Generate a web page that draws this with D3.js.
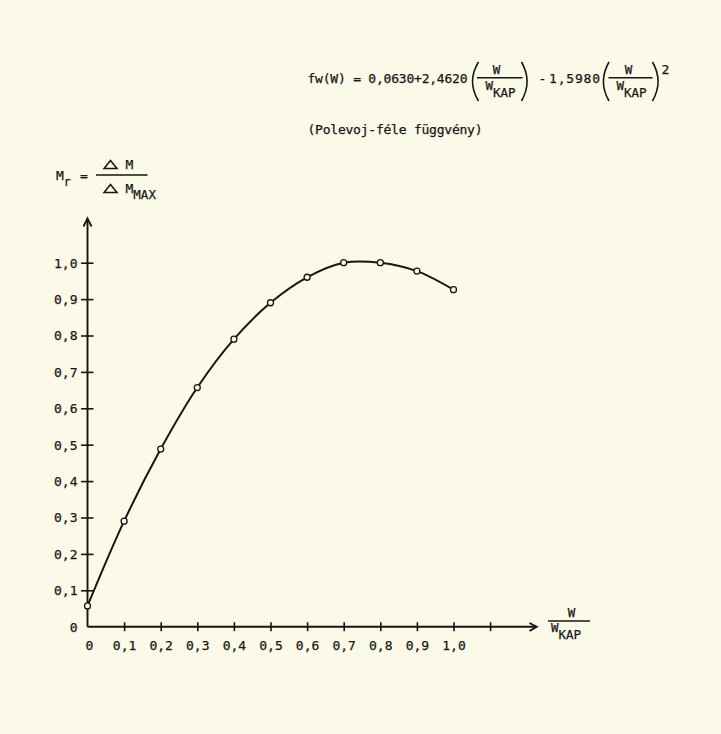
<!DOCTYPE html>
<html>
<head>
<meta charset="utf-8">
<script src="https://cdn.jsdelivr.net/npm/d3@7"></script>
<style>
  html, body { margin: 0; padding: 0; background: #fbf9e7; }
  svg { display: block; }
  text { font-family: "DejaVu Sans Mono", "Liberation Mono", monospace; fill: #161616; stroke: #161616; stroke-width: 0.25; }
</style>
</head>
<body>
<svg id="chart" width="721" height="734"></svg>
<script>
// ---- data ----
const relW = [0, 0.1, 0.2, 0.3, 0.4, 0.5, 0.6, 0.7, 0.8, 0.9, 1.0];
const relM = [0.057, 0.29, 0.488, 0.657, 0.79, 0.89, 0.96, 1.0, 1.0, 0.977, 0.926];
const xTickValues = [0.1, 0.2, 0.3, 0.4, 0.5, 0.6, 0.7, 0.8, 0.9, 1.0, 1.1];
const xLabelValues = [0, 0.1, 0.2, 0.3, 0.4, 0.5, 0.6, 0.7, 0.8, 0.9, 1.0];
const xLabels = ["0", "0,1", "0,2", "0,3", "0,4", "0,5", "0,6", "0,7", "0,8", "0,9", "1,0"];
const yTickValues = [0.1, 0.2, 0.3, 0.4, 0.5, 0.6, 0.7, 0.8, 0.9, 1.0];
const yLabelValues = [0, 0.1, 0.2, 0.3, 0.4, 0.5, 0.6, 0.7, 0.8, 0.9, 1.0];
const yLabels = ["0", "0,1", "0,2", "0,3", "0,4", "0,5", "0,6", "0,7", "0,8", "0,9", "1,0"];

const ink = "#161616";
const fs = 13;
const svg = d3.select("#chart");
svg.append("rect").attr("width", 721).attr("height", 734).attr("fill", "#fbf9e7");

const x = d3.scaleLinear().domain([0, 1]).range([87.5, 453.5]);
const y = d3.scaleLinear().domain([0, 1]).range([626.7, 262.7]);

// ---- axes ----
const gx = svg.append("g").attr("transform", `translate(0,${y(0)})`)
  .call(d3.axisBottom(x).tickValues(xTickValues).tickFormat("").tickSize(4.5));
gx.select(".domain").remove();
gx.selectAll(".tick line").attr("y1", -4.5).attr("y2", 4.5).attr("stroke", ink).attr("stroke-width", 1.6);

const gy = svg.append("g").attr("transform", `translate(${x(0)},0)`)
  .call(d3.axisLeft(y).tickValues(yTickValues).tickFormat("").tickSize(6.5));
gy.select(".domain").remove();
gy.selectAll(".tick line").attr("x1", -6.5).attr("x2", 6).attr("stroke", ink).attr("stroke-width", 1.6);

// axis lines with arrows
svg.append("line").attr("x1", x(0)).attr("x2", 536).attr("y1", y(0)).attr("y2", y(0))
  .attr("stroke", ink).attr("stroke-width", 1.9);
svg.append("path").attr("d", `M529.5,623 L536.7,${y(0)} L529.5,631`)
  .attr("fill", "none").attr("stroke", ink).attr("stroke-width", 1.9);
svg.append("line").attr("x1", x(0)).attr("x2", x(0)).attr("y1", y(0)).attr("y2", 219)
  .attr("stroke", ink).attr("stroke-width", 1.9);
svg.append("path").attr("d", `M${x(0)-4},226.5 L${x(0)},218.3 L${x(0)+4},226.5`)
  .attr("fill", "none").attr("stroke", ink).attr("stroke-width", 1.9);

// tick labels
svg.append("g").selectAll("text").data(xLabelValues).join("text")
  .attr("x", (d, i) => x(d) + (i === 0 ? 2 : 0.5)).attr("y", 650)
  .attr("text-anchor", "middle").attr("font-size", fs)
  .text((d, i) => xLabels[i]);
svg.append("g").selectAll("text").data(yLabelValues).join("text")
  .attr("x", 77.5).attr("y", d => y(d) + 4.8)
  .attr("text-anchor", "end").attr("font-size", fs)
  .text((d, i) => yLabels[i]);

// ---- curve ----
const pts = relW.map((w, i) => [w, relM[i]]);
svg.append("path").datum(pts)
  .attr("d", d3.line().x(d => x(d[0])).y(d => y(d[1])).curve(d3.curveCatmullRom.alpha(0.5)))
  .attr("fill", "none").attr("stroke", ink).attr("stroke-width", 2);
svg.append("g").selectAll("circle").data(pts).join("circle")
  .attr("cx", d => x(d[0])).attr("cy", d => y(d[1])).attr("r", 3)
  .attr("fill", "#fbf9e7").attr("stroke", ink).attr("stroke-width", 1.3);

// ---- x-axis label W / W_KAP ----
svg.append("text").attr("x", 571.5).attr("y", 617).attr("text-anchor", "middle").attr("font-size", 12.5).text("W");
svg.append("line").attr("x1", 548).attr("x2", 590).attr("y1", 621).attr("y2", 621).attr("stroke", ink).attr("stroke-width", 1.5);
svg.append("text").attr("x", 551).attr("y", 632).attr("font-size", 12.5)
  .text("W").append("tspan").attr("dy", 7).attr("font-size", 12.5).text("KAP");

// ---- y-axis label ----
svg.append("text").attr("x", 56).attr("y", 179.5).attr("font-size", fs)
  .text("M").append("tspan").attr("dy", 6).attr("font-size", 11.5).text("r");
svg.append("text").attr("x", 80).attr("y", 180).attr("font-size", fs).text("=");
svg.append("line").attr("x1", 96).attr("x2", 147.5).attr("y1", 175).attr("y2", 175).attr("stroke", ink).attr("stroke-width", 1.5);
function tri(x0, yb) {
  svg.append("path").attr("d", `M${x0},${yb} L${x0 + 13},${yb} L${x0 + 6.5},${yb - 8} Z`)
    .attr("fill", "none").attr("stroke", ink).attr("stroke-width", 1.5);
}
tri(104, 168.5);
tri(104, 192.5);
svg.append("text").attr("x", 125.5).attr("y", 168.5).attr("font-size", fs).text("M");
svg.append("text").attr("x", 125.5).attr("y", 192.5).attr("font-size", fs)
  .text("M").append("tspan").attr("dy", 6).attr("font-size", 12.5).text("MAX");

// ---- formula ----
function paren(x0, x1, top, bottom) {
  const mid = (top + bottom) / 2;
  svg.append("path").attr("d", `M${x1},${top} Q${x0 - (x1 - x0) * 0.6},${mid} ${x1},${bottom}`)
    .attr("fill", "none").attr("stroke", ink).attr("stroke-width", 1.6);
}
function frac(lx1, lx2, ly, topX, botX) {
  svg.append("line").attr("x1", lx1).attr("x2", lx2).attr("y1", ly).attr("y2", ly).attr("stroke", ink).attr("stroke-width", 1.5);
  svg.append("text").attr("x", topX).attr("y", 73.5).attr("text-anchor", "middle").attr("font-size", 12.5).text("W");
  svg.append("text").attr("x", botX).attr("y", 90).attr("font-size", 12.5)
    .text("W").append("tspan").attr("dy", 6.5).attr("font-size", 12.5).text("KAP");
}
svg.append("text").attr("x", 307.5).attr("y", 82.5).attr("font-size", fs).attr("textLength", 160)
  .text("fw(W) = 0,0630+2,4620");
paren(471, 478.5, 62, 101);
frac(477, 522.5, 77.7, 496.5, 485.5);
paren(528.5, 521.5, 62, 101);
svg.append("text").attr("x", 538.5).attr("y", 82.5).attr("font-size", fs).text("-");
svg.append("text").attr("x", 549).attr("y", 82.5).attr("font-size", fs).attr("textLength", 51).text("1,5980");
paren(602, 609, 62, 101);
frac(608.5, 652.5, 77.7, 628.5, 616.5);
paren(659.5, 652.5, 62, 101);
svg.append("text").attr("x", 661.5).attr("y", 73.5).attr("font-size", fs).text("2");

svg.append("text").attr("x", 307.5).attr("y", 133.5).attr("font-size", fs).attr("textLength", 175)
  .text("(Polevoj-féle függvény)");
</script>
</body>
</html>
